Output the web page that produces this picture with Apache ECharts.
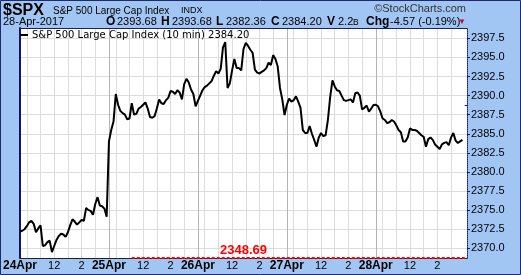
<!DOCTYPE html>
<html><head><meta charset="utf-8">
<script src="https://cdn.jsdelivr.net/npm/echarts@6/dist/echarts.min.js"></script>
<style>html,body{margin:0;padding:0;background:#a2c6f4;overflow:hidden}#c{width:521px;height:275px}</style>
</head><body><div id="c"></div>
<script>
// ---- data ----
const days = ['24Apr', '25Apr', '26Apr', '27Apr', '28Apr'];
const barsPerDay = 39;               // 10-min bars 9:30 .. 15:50
const hourLabels = { 15: '12', 27: '2' };
const hourGridBars = [0, 3, 9, 15, 21, 27, 33];
const yTicks = [2370.0, 2372.5, 2375.0, 2377.5, 2380.0, 2382.5, 2385.0, 2387.5, 2390.0, 2392.5, 2395.0, 2397.5];
const yMin = 2368.73;
const yMax = 2398.85;
const prevClose = 2348.69;   // close before the chart window (off scale)
const prevDayClose = 2388.77; // 27-Apr close
const lastClose = 2384.20;

const apr24 = [2372.2, 2372.3, 2372.5, 2372.9, 2373.4, 2373.6, 2373.2, 2372.1, 2372.6, 2373.0,
  2370.3, 2370.4, 2370.8, 2371.0, 2369.5, 2370.3, 2371.1, 2371.6, 2371.9, 2371.8,
  2371.5, 2372.1, 2373.0, 2373.8, 2373.5, 2373.1, 2373.4, 2373.7, 2373.6, 2375.3,
  2375.0, 2374.9, 2374.4, 2375.8, 2376.7, 2375.6, 2375.5, 2375.2, 2374.15];
const apr25 = [2384.0, 2385.5, 2386.6, 2390.2, 2388.8, 2388.0, 2387.7, 2387.5, 2386.9, 2387.0,
  2389.0, 2387.5, 2387.6, 2388.3, 2388.5, 2388.8, 2389.1, 2388.3, 2387.2, 2387.1,
  2387.3, 2388.3, 2389.5, 2389.0, 2388.9, 2389.4, 2389.7, 2390.6, 2390.5, 2390.2,
  2390.7, 2390.4, 2389.5, 2391.5, 2392.2, 2391.7, 2390.8, 2390.2, 2388.6];
const apr26 = [2389.3, 2390.0, 2390.7, 2391.1, 2391.3, 2391.6, 2391.9, 2392.6, 2393.2, 2392.9,
  2393.5, 2396.3, 2397.0, 2391.0, 2391.6, 2393.3, 2394.8, 2393.6, 2393.6, 2393.3,
  2396.1, 2396.9, 2396.5, 2396.0, 2395.6, 2393.4, 2393.0, 2392.9, 2393.1, 2393.3,
  2393.6, 2394.3, 2394.0, 2395.3, 2394.8, 2393.8, 2391.0, 2389.5, 2387.45];
const apr27 = [2388.8, 2389.6, 2389.2, 2389.4, 2389.9, 2389.2, 2388.4, 2385.5, 2385.1, 2385.1,
  2386.0, 2385.0, 2384.2, 2383.3, 2384.5, 2385.1, 2384.7, 2384.8, 2386.8, 2389.8,
  2392.0, 2391.2, 2390.7, 2390.6, 2390.0, 2389.4, 2389.3, 2389.4, 2389.5, 2389.1,
  2390.3, 2390.4, 2390.0, 2388.2, 2388.4, 2388.7, 2387.9, 2388.3, 2388.77];
const apr28 = [2388.8, 2388.6, 2387.9, 2387.0, 2386.8, 2386.4, 2386.5, 2386.8, 2386.6, 2386.1,
  2385.5, 2385.2, 2384.0, 2384.0, 2384.5, 2385.7, 2385.5, 2385.5, 2385.4, 2385.1,
  2384.8, 2384.6, 2383.3, 2384.3, 2384.5, 2384.2, 2383.6, 2383.3, 2383.0, 2383.6,
  2383.8, 2383.9, 2383.5, 2384.5, 2385.1, 2384.1, 2383.8, 2384.0, 2384.2];

// ---- build ----
const prices = [].concat(apr24, apr25, apr26, apr27, apr28);
const cats = [];
days.forEach(d => {
  for (let j = 0; j < barsPerDay; j++) {
    const m = 9 * 60 + 30 + j * 10;
    cats.push(j === 0 ? d : (Math.floor(m / 60) + ':' + String(m % 60).padStart(2, '0')));
  }
});
cats.push('', ''); // right margin slots
const nData = prices.length;
const lastIdx = cats.length - 1;

const isHourGrid = i => i < nData && hourGridBars.indexOf(i % barsPerDay) >= 0;
const isDay = i => i < nData && i % barsPerDay === 0;
const isLabel = i => i < nData && (i % barsPerDay === 0 || hourLabels[i % barsPerDay] !== undefined);

const FONT = 'Arial, "Liberation Sans", sans-serif';
const chart = echarts.init(document.getElementById('c'), null, { renderer: 'canvas' });

function txt(x, y, text, size, weight, color, align) {
  return { type: 'text', z: 100, style: { x, y, text, font: (weight || 'normal') + ' ' + size + 'px ' + FONT,
    fill: color || '#000', textAlign: align || 'left', textVerticalAlign: 'middle' } };
}

chart.setOption({
  animation: false,
  backgroundColor: '#a2c6f4',
  grid: { left: 16, right: 54, top: 28, bottom: 17, show: true, backgroundColor: '#fff', borderWidth: 0 },
  xAxis: [{
    type: 'category', data: cats, boundaryGap: false, position: 'bottom',
    axisLine: { show: true, lineStyle: { color: '#222', width: 1 } },
    axisTick: { show: false },
    axisLabel: {
      interval: (i) => isLabel(i), margin: 2, color: '#000', fontFamily: FONT,
      formatter: (v, i) => {
        const j = i % barsPerDay;
        return j === 0 ? '{d|' + v + '}' : '{h|' + hourLabels[j] + '}';
      },
      rich: { d: { fontWeight: 'bold', fontSize: 12, fontFamily: FONT, color: '#000' },
              h: { fontSize: 11, fontFamily: FONT, color: '#000' } }
    },
    splitLine: { show: true, interval: (i) => isHourGrid(i), lineStyle: { color: '#dcdcdc', width: 1 } }
  }, {
    type: 'category', data: cats, boundaryGap: false, position: 'top',
    axisLine: { show: true, lineStyle: { color: '#1c2060', width: 1 } },
    axisTick: { show: false }, axisLabel: { show: false },
    splitLine: { show: true, interval: (i) => isDay(i), lineStyle: { color: '#b4b4b4', width: 1 } }
  }],
  yAxis: [{
    type: 'value', position: 'right', min: yMin, max: yMax,
    axisLine: { show: true, lineStyle: { color: '#1a1a80', type: 'dotted', width: 1 } },
    axisTick: { show: true, customValues: yTicks, length: 3, lineStyle: { color: '#1a1a80' } },
    axisLabel: { customValues: yTicks, margin: 4, color: '#000', fontSize: 11, fontFamily: FONT,
      formatter: v => v.toFixed(1) },
    splitLine: { show: true, lineStyle: { color: '#dcdcdc', width: 1 } }
  }, {
    type: 'value', position: 'left', min: yMin, max: yMax,
    axisLine: { show: true, lineStyle: { color: '#14146e', width: 2 } },
    axisTick: { show: false }, axisLabel: { show: false }, splitLine: { show: false }
  }],
  series: [{
    type: 'line', data: prices, xAxisIndex: 0, yAxisIndex: 0,
    symbol: 'none', lineStyle: { color: '#000', width: 2 }, z: 5,
    markLine: {
      silent: true, symbol: 'none', animation: false, clip: false,
      data: [
        [{ coord: [49, yMin], lineStyle: { color: '#ff0000', type: [3, 2], width: 2 }, label: { show: false } },
         { coord: [lastIdx, yMin] }],
        [{ coord: [0, yMin], lineStyle: { color: 'rgba(0,0,0,0)', width: 0 },
           label: { show: true, position: 'insideMiddleTop', distance: 1, formatter: prevClose.toFixed(2),
             color: '#ff0000', fontWeight: 'bold', fontSize: 13, fontFamily: FONT } },
         { coord: [lastIdx, yMin] }],
        [{ coord: [lastIdx - 1, prevDayClose], lineStyle: { color: '#0000ff', type: 'solid', width: 1 }, label: { show: false } },
         { coord: [lastIdx, prevDayClose] }]
      ]
    }
  }],
  graphic: [
    txt(3, 11, '$SPX', 16, 'bold'),
    txt(53, 11, 'S&P 500 Large Cap Index', 10),
    txt(181, 11, 'INDX', 9),
    txt(466, 9, '\u00A9StockCharts.com', 11, 'normal', '#333', 'right'),
    txt(3, 22, '28-Apr-2017', 11),
    txt(106, 22, 'O', 12, 'bold'), txt(117, 22, '2393.68', 11),
    txt(161, 22, 'H', 12, 'bold'), txt(172, 22, '2393.68', 11),
    txt(216, 22, 'L', 12, 'bold'), txt(226, 22, '2382.36', 11),
    txt(271, 22, 'C', 12, 'bold'), txt(282, 22, lastClose.toFixed(2), 11),
    txt(327, 22, 'V', 12, 'bold'), txt(338, 22, '2.2', 11), txt(353, 22.5, 'B', 8.5),
    txt(366, 22, 'Chg', 12, 'bold'), txt(390, 22, '-4.57 (-0.19%)', 11),
    txt(458, 22, '\u25BC', 8, 'normal', '#c0102a'),
    { type: 'line', z: 100, shape: { x1: 20, y1: 35, x2: 28, y2: 35 }, style: { stroke: '#000', lineWidth: 2 } },
    { type: 'text', z: 100, style: { x: 32, y: 35, text: 'S&P 500 Large Cap Index (10 min) ' + lastClose.toFixed(2),
      font: 'normal 10px "DejaVu Sans", Verdana, sans-serif', fill: '#000', textVerticalAlign: 'middle' } },
    { type: 'rect', z: 101, shape: { x: 0.5, y: 0.5, width: 520, height: 274 },
      style: { fill: 'none', stroke: '#1e2a6a', lineWidth: 1 } }
  ]
});
</script></body></html>
